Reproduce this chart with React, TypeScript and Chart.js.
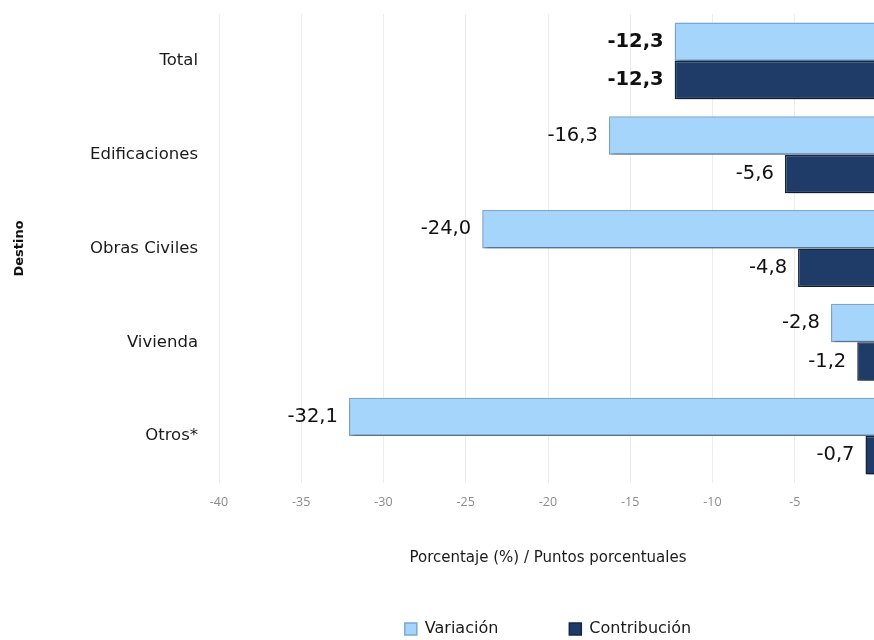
import React, { useEffect, useRef } from "react";
import { Chart, registerables } from "chart.js";

Chart.register(...registerables);

const categories = ["Total", "Edificaciones", "Obras Civiles", "Vivienda", "Otros*"];
const variacion = [-12.3, -16.3, -24.0, -2.8, -32.1];
const contribucion = [-12.3, -5.6, -4.8, -1.2, -0.7];
const xTicks = [-40, -35, -30, -25, -20, -15, -10, -5, 0];
const seriesNames = ["Variación", "Contribución"];
const xTitle = "Porcentaje (%) / Puntos porcentuales";
const yTitle = "Destino";
const boldCategory = "Total";

const FONT = "'DejaVu Sans', 'Noto Sans', sans-serif";
const TICK_FONT = "'Open Sans', 'Noto Sans', sans-serif";

const fmt = (v: number) => v.toFixed(1).replace(".", ",");

const barEffects = {
  id: "barEffects",
  beforeDatasetsDraw(chart: any) {
    const ctx = chart.ctx;
    ctx.save();
    ctx.shadowColor = "rgba(0,0,0,0.35)";
    ctx.shadowBlur = 4;
    ctx.shadowOffsetX = 2;
    ctx.shadowOffsetY = 3;
  },
  afterDatasetsDraw(chart: any) {
    const ctx = chart.ctx;
    ctx.restore();
    ctx.save();
    chart.data.datasets.forEach((ds: any, di: number) => {
      const meta = chart.getDatasetMeta(di);
      meta.data.forEach((el: any, i: number) => {
        const v = ds.data[i] as number;
        const bold = chart.data.labels[i] === boldCategory;
        ctx.font = `${bold ? "bold " : ""}19.5px ${FONT}`;
        ctx.fillStyle = "#111111";
        ctx.textAlign = "right";
        ctx.textBaseline = "middle";
        ctx.fillText(fmt(v), el.x - 11, el.y);
      });
    });
    ctx.restore();
  },
};

export default function App() {
  const ref = useRef<HTMLCanvasElement | null>(null);

  useEffect(() => {
    if (!ref.current) return;
    const chart = new Chart(ref.current, {
      type: "bar",
      data: {
        labels: categories,
        datasets: [
          {
            label: seriesNames[0],
            data: variacion,
            backgroundColor: "#a6d5fb",
            borderColor: "#7aa8d6",
            borderWidth: 1.5,
            categoryPercentage: 0.82,
            barPercentage: 1.0,
          },
          {
            label: seriesNames[1],
            data: contribucion,
            backgroundColor: "#1f3c68",
            borderColor: "#132746",
            borderWidth: 1.5,
            categoryPercentage: 0.82,
            barPercentage: 1.0,
          },
        ],
      },
      options: {
        indexAxis: "y",
        animation: false,
        responsive: false,
        maintainAspectRatio: false,
        layout: { padding: { top: 14, left: 0, right: 0, bottom: 0 } },
        plugins: {
          legend: {
            position: "bottom",
            fullSize: false,
            labels: {
              boxWidth: 12,
              boxHeight: 12,
              padding: 71,
              color: "#1a1a1a",
              font: { family: FONT, size: 16 },
            },
          },
          tooltip: { enabled: false },
        },
        scales: {
          x: {
            type: "linear",
            min: -40,
            max: 0,
            afterBuildTicks: (s: any) => {
              s.ticks = xTicks.map((v) => ({ value: v }));
            },
            afterFit: (s: any) => {
              s.height = 67;
              s.paddingLeft = 0;
              s.paddingRight = 0;
            },
            grid: { color: "#ececec", drawTicks: false },
            border: { display: false },
            ticks: {
              padding: 11.5,
              color: "#8a8a8a",
              font: { family: TICK_FONT, size: 12.5 },
            },
            title: {
              display: true,
              text: xTitle,
              color: "#1a1a1a",
              font: { family: FONT, size: 15 },
              padding: { top: 0, bottom: -17 },
            },
          },
          y: {
            afterFit: (s: any) => {
              s.width = 219;
              s.paddingTop = 0;
              s.paddingBottom = 0;
            },
            grid: { display: false, drawTicks: false },
            border: { display: false },
            ticks: {
              padding: 21,
              color: "#1a1a1a",
              font: { family: FONT, size: 16.5 },
            },
            title: {
              display: true,
              text: yTitle,
              color: "#111111",
              font: { family: FONT, size: 13, weight: "bold" },
              padding: { top: 12, bottom: 0 },
            },
          },
        },
      },
      plugins: [barEffects],
    } as any);
    return () => chart.destroy();
  }, []);

  return (
    <div
      style={{
        position: "absolute",
        left: 0,
        top: 0,
        width: 874,
        height: 640,
        overflow: "hidden",
        background: "#ffffff",
      }}
    >
      <canvas ref={ref} width={877} height={647} style={{ width: 877, height: 647, display: "block" }} />
    </div>
  );
}
